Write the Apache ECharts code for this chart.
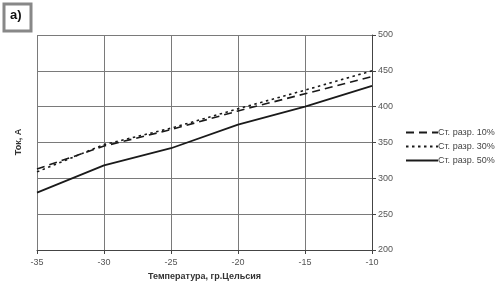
<!DOCTYPE html>
<html><head><meta charset="utf-8">
<script src="https://cdn.jsdelivr.net/npm/echarts@6/dist/echarts.min.js"></script>
<style>html,body{margin:0;padding:0;background:#fff}#c{width:500px;height:290px}</style>
</head><body><div id="c"></div>
<script>
const temps = [-35, -30, -25, -20, -15, -10];
const s10 = [313, 345, 368, 394, 418, 442];
const s30 = [309, 347, 370, 397, 423, 450];
const s50 = [280, 318, 342, 375, 400, 429];
const names = ['Ст. разр. 10%', 'Ст. разр. 30%', 'Ст. разр. 50%'];
const xTitle = 'Температура, гр.Цельсия';
const yTitle = 'Ток, А';
const panelLabel = 'a)';

const pair = (xs, ys) => xs.map((x, i) => [x, ys[i]]);
const chart = echarts.init(document.getElementById('c'));
const lineCol = '#1a1a1a';
chart.setOption({
  animation: false,
  grid: {left: 37, right: 128, top: 35, bottom: 40},
  xAxis: {
    type: 'value', min: -35, max: -10, interval: 5,
    name: xTitle, nameLocation: 'middle', nameGap: 22,
    nameTextStyle: {fontFamily: 'Liberation Sans', fontSize: 9, fontWeight: 'bold', color: '#333'},
    axisLine: {lineStyle: {color: '#444', width: 1}},
    axisTick: {show: true, length: 4, lineStyle: {color: '#444'}},
    axisLabel: {fontFamily: 'Liberation Sans', fontSize: 9, color: '#555', margin: 8},
    splitLine: {show: true, lineStyle: {color: '#7a7a7a', width: 1}}
  },
  yAxis: {
    type: 'value', position: 'right', min: 200, max: 500, interval: 50,
    axisLine: {show: true, lineStyle: {color: '#444', width: 1}},
    axisTick: {show: true, length: 4, lineStyle: {color: '#444'}},
    axisLabel: {fontFamily: 'Liberation Sans', fontSize: 9, color: '#555', margin: 6},
    splitLine: {show: true, lineStyle: {color: '#7a7a7a', width: 1}}
  },
  legend: {
    orient: 'vertical', left: 400, top: 123, itemWidth: 32, itemHeight: 10, itemGap: 5,
    textStyle: {fontFamily: 'Liberation Sans', fontSize: 9, color: '#444', padding: [0,0,0,-5]},
    itemStyle: {color: 'rgba(0,0,0,0)', borderWidth: 0, borderColor: 'rgba(0,0,0,0)'},
    data: names
  },
  series: [
    {name: names[0], type: 'line', data: pair(temps, s10), showSymbol: false, symbol: 'none',
     lineStyle: {color: lineCol, width: 1.6, type: [8, 5]}, itemStyle: {color: lineCol}},
    {name: names[1], type: 'line', data: pair(temps, s30), showSymbol: false, symbol: 'none',
     lineStyle: {color: lineCol, width: 1.6, type: [2.5, 3.5]}, itemStyle: {color: lineCol}},
    {name: names[2], type: 'line', data: pair(temps, s50), showSymbol: false, symbol: 'none',
     lineStyle: {color: lineCol, width: 1.8, type: 'solid'}, itemStyle: {color: lineCol}}
  ],
  graphic: [
    {type: 'rect', shape: {x: 4, y: 4, width: 27, height: 27},
     style: {fill: '#fff', stroke: '#888', lineWidth: 3}},
    {type: 'text', left: 10, top: 9,
     style: {text: panelLabel, font: 'bold 13px "Liberation Sans"', fill: '#111'}},
    {type: 'text', x: 19, y: 142, rotation: Math.PI / 2,
     style: {text: yTitle, font: 'bold 9px "Liberation Sans"', fill: '#333', align: 'center', verticalAlign: 'middle'}}
  ]
});
</script></body></html>
